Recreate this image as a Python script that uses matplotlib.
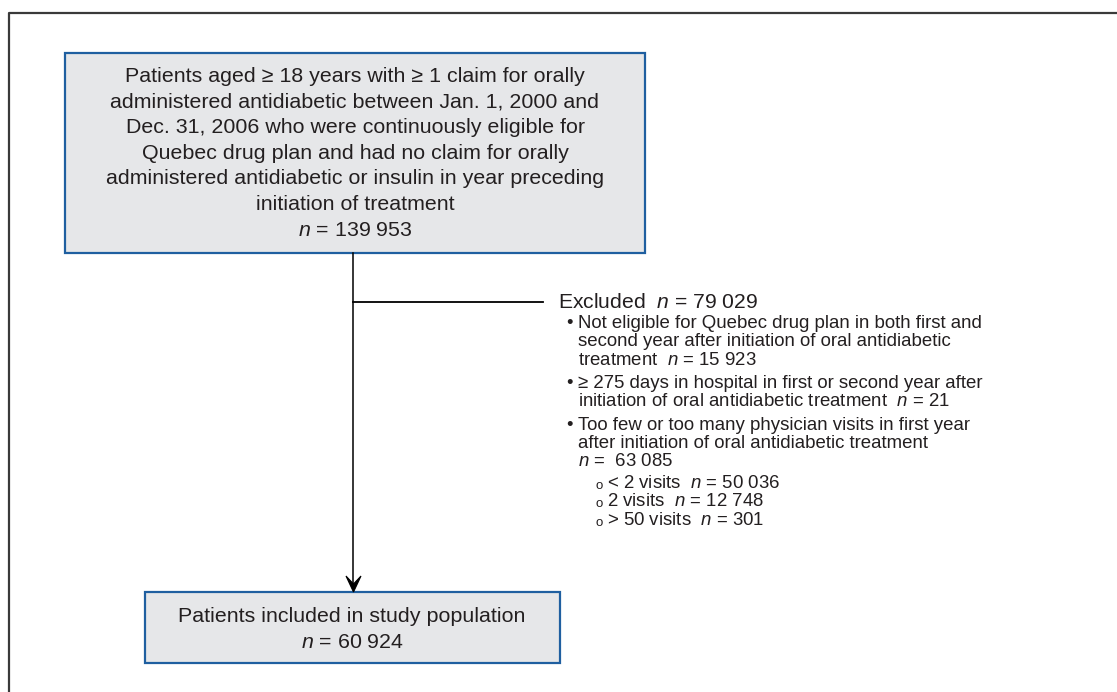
import matplotlib
matplotlib.use("Agg")
import matplotlib.pyplot as plt
from matplotlib.patches import Rectangle, Polygon

plt.rcParams['font.family'] = ['Liberation Sans', 'DejaVu Sans']
plt.rcParams['mathtext.fontset'] = 'custom'
plt.rcParams['mathtext.rm'] = 'Liberation Sans'
plt.rcParams['mathtext.it'] = 'Liberation Sans:italic'

# ---- content ----
top_lines = [
    "Patients aged ≥ 18 years with ≥ 1 claim for orally",
    "administered antidiabetic between Jan. 1, 2000 and",
    "Dec. 31, 2006 who were continuously eligible for",
    "Quebec drug plan and had no claim for orally",
    "administered antidiabetic or insulin in year preceding",
    "initiation of treatment",
    "$n$ = 139 953",
]
bottom_lines = [
    "Patients included in study population",
    "$n$ = 60 924",
]
excluded_title = "Excluded  $n$ = 79 029"
bullets = [
    ["Not eligible for Quebec drug plan in both first and",
     "second year after initiation of oral antidiabetic",
     "treatment  $n$ = 15 923"],
    ["≥ 275 days in hospital in first or second year after",
     "initiation of oral antidiabetic treatment  $n$ = 21"],
    ["Too few or too many physician visits in first year",
     "after initiation of oral antidiabetic treatment",
     "$n$ =  63 085"],
]
sub_bullets = [
    "< 2 visits  $n$ = 50 036",
    "2 visits  $n$ = 12 748",
    "> 50 visits  $n$ = 301",
]

TXT = "#231f20"
FILL = "#e6e7e9"
EDGE = "#1f5fa0"

fig = plt.figure(figsize=(11.17, 6.92), dpi=100)
ax = fig.add_axes([0, 0, 1, 1])
ax.set_xlim(0, 1117)
ax.set_ylim(692, 0)
ax.axis('off')

# outer frame
ax.plot([9, 9, 1117], [692, 13, 13], color="#3a3a3a", lw=1.6, solid_capstyle='butt')

# top box
ax.add_patch(Rectangle((65, 53), 580, 200, facecolor=FILL, edgecolor=EDGE, lw=1.6))
y0, dy = 76, 25.7
for i, t in enumerate(top_lines):
    ax.text(355, y0 + i * dy, t, ha='center', va='center', fontsize=15.4, color=TXT)

# bottom box
ax.add_patch(Rectangle((145, 592), 415, 71, facecolor=FILL, edgecolor=EDGE, lw=1.6))
for i, t in enumerate(bottom_lines):
    ax.text(352, 617 + i * 25.5, t, ha='center', va='center', fontsize=15.4, color=TXT)

# connectors
ax.plot([353, 353], [253, 586], color='black', lw=1.1)
ax.add_patch(Polygon([(353.5, 592), (346, 576), (353.5, 584), (361, 576)], closed=True,
                     facecolor='black', edgecolor='black', lw=0.8))
ax.plot([353, 543], [302, 302], color='black', lw=1.3)

# excluded text
ax.text(558, 302, excluded_title, ha='left', va='center', fontsize=15.2, color=TXT)
ly = 323.5
ldy = 18.3
for grp_i, grp in enumerate(bullets):
    for j, line in enumerate(grp):
        if j == 0:
            ax.text(566, ly, "•", ha='left', va='center', fontsize=13.4, color=TXT)
        ax.text(578, ly, line, ha='left', va='center', fontsize=13.4, color=TXT)
        ly += ldy
    ly += 5
ly -= 5
ly += 3.5
for t in sub_bullets:
    ax.text(596, ly + 2.5, "o", ha='left', va='center', fontsize=9.5, color=TXT)
    ax.text(607, ly, t, ha='left', va='center', fontsize=13.4, color=TXT)
    ly += ldy

fig.savefig("out.png", dpi=100)
